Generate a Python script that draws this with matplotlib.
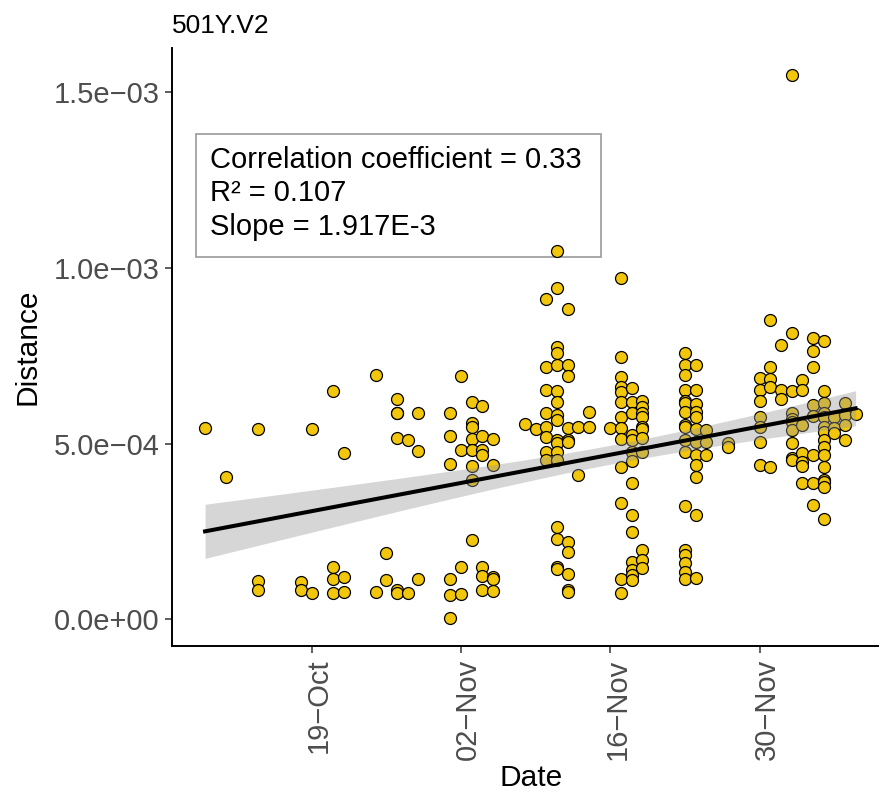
import numpy as np
import pandas as pd
import matplotlib
matplotlib.use("Agg")
import matplotlib.pyplot as plt
import matplotlib.dates as mdates
from matplotlib.patches import Rectangle
from matplotlib.transforms import ScaledTranslation

plt.rcParams["font.family"] = ["Liberation Sans", "DejaVu Sans"]

# === 1. data: sampling dates and distances (units of 1e-4) ===
dates = [
    "2020-10-09", "2020-10-11", "2020-10-14", "2020-10-18", "2020-10-19",
    "2020-10-21", "2020-10-22", "2020-10-25", "2020-10-26", "2020-10-27",
    "2020-10-28", "2020-10-29", "2020-11-01", "2020-11-02", "2020-11-03",
    "2020-11-04", "2020-11-05", "2020-11-08", "2020-11-09", "2020-11-10",
    "2020-11-11", "2020-11-12", "2020-11-13", "2020-11-14", "2020-11-16",
    "2020-11-17", "2020-11-18", "2020-11-19", "2020-11-23", "2020-11-24",
    "2020-11-25", "2020-11-27", "2020-11-30", "2020-12-01", "2020-12-02",
    "2020-12-03", "2020-12-04", "2020-12-05", "2020-12-06", "2020-12-07",
    "2020-12-08", "2020-12-09",
]
distances = [
    [5.45],
    [4.05],
    [5.42, 1.10, 0.84],
    [1.07, 0.84],
    [5.42, 0.75],
    [6.51, 1.49, 1.15, 0.75],
    [4.74, 1.21, 0.78],
    [6.95, 0.78],
    [1.89, 1.12],
    [6.26, 5.88, 5.88, 5.16, 0.84, 0.75],
    [5.11, 0.75],
    [5.88, 4.79, 1.15],
    [5.88, 5.22, 4.42, 1.15, 0.70, 0.04],
    [6.93, 4.82, 1.49, 0.73],
    [6.19, 5.59, 5.48, 5.14, 4.82, 4.37, 3.97, 2.26],
    [6.08, 5.22, 4.82, 4.68, 1.49, 1.24, 0.84],
    [5.14, 4.40, 1.21, 1.15, 0.81],
    [5.56],
    [5.42],
    [9.12, 7.18, 6.54, 5.88, 5.48, 5.19, 4.77, 4.54],
    [10.48, 9.43, 7.75, 7.58, 7.24, 6.49, 6.19, 5.82, 5.68, 5.11, 5.02,
     4.77, 4.54, 2.63, 2.29, 1.49, 1.44],
    [8.83, 7.24, 6.93, 5.45, 5.11, 5.05, 2.20, 1.92, 1.29, 0.84, 0.78],
    [5.48, 4.11],
    [5.90, 5.48],
    [5.45],
    [9.72, 7.47, 6.90, 6.61, 6.46, 6.19, 5.76, 5.45, 5.14, 4.34, 3.31,
     1.15, 0.75],
    [6.59, 6.19, 5.88, 5.25, 5.11, 4.77, 4.51, 3.88, 2.97, 2.49, 1.64,
     1.41, 1.27, 1.12],
    [6.23, 6.05, 5.88, 5.76, 5.48, 5.42, 5.16, 4.77, 1.98, 1.69, 1.47],
    [7.58, 7.24, 6.95, 6.54, 6.23, 6.16, 5.90, 5.53, 5.48, 5.11, 4.77,
     3.23, 1.98, 1.84, 1.61, 1.35, 1.15],
    [7.24, 6.54, 6.13, 5.90, 5.76, 5.42, 5.05, 4.68, 4.40, 4.05, 2.97, 1.18],
    [5.39, 5.05, 4.68],
    [5.02, 4.91],
    [6.87, 6.54, 6.23, 5.76, 5.48, 5.05, 4.40],
    [8.52, 7.18, 6.84, 6.61, 4.34],
    [7.81, 6.54, 6.26],
    [15.50, 8.15, 6.51, 5.88, 5.70, 5.62, 5.39, 5.02, 4.59, 4.54],
    [6.81, 6.54, 5.53, 4.74, 4.48, 4.37, 3.88],
    [8.01, 7.64, 7.18, 6.10, 5.79, 4.68, 3.88, 3.26],
    [7.92, 6.49, 6.16, 5.88, 5.76, 5.48, 5.33, 5.11, 4.91, 4.68, 4.34,
     3.97, 3.91, 3.77, 2.86],
    [5.76, 5.45, 5.31],
    [6.16, 5.82, 5.53, 5.11],
    [5.85],
]
scale = 1e-4

stats_text = ["Correlation coefficient = 0.33", "R\u00b2 = 0.107", "Slope = 1.917E-3"]

# === 2. long table ===
df = pd.DataFrame({"date": dates, "dist": distances}).explode("dist")
df["date"] = pd.to_datetime(df["date"])
df["dist"] = df["dist"].astype(float) * scale
x = mdates.date2num(df["date"])
y = df["dist"].to_numpy()

# === 3. linear fit + 95% CI (like geom_smooth(method="lm")) ===
n = len(x)
b, a = np.polyfit(x, y, 1)
resid = y - (a + b * x)
sigma = np.sqrt(np.sum(resid ** 2) / (n - 2))
sxx = np.sum((x - x.mean()) ** 2)
xs = np.linspace(x.min(), x.max(), 200)
fit = a + b * xs
se = sigma * np.sqrt(1 / n + (xs - x.mean()) ** 2 / sxx)
lo, hi = fit - 1.97 * se, fit + 1.97 * se

# === 4. plot ===
fig = plt.figure(figsize=(8.8, 7.98), dpi=100)
ax = fig.add_axes([172 / 880, 152 / 798, 706 / 880, 598 / 798])

ax.scatter(x, y, s=74, color="#F2C60A", edgecolor="black", linewidth=0.9, zorder=2)
ax.fill_between(xs, lo, hi, color="#999999", alpha=0.4, linewidth=0, zorder=3)
ax.plot(xs, fit, color="black", linewidth=2.9, zorder=4)

# stats box
ax.add_patch(Rectangle((0.034, 0.6505), 0.5736, 0.2055, transform=ax.transAxes,
                       facecolor="none", edgecolor="#9a9a9a", linewidth=1.2, zorder=1))
for ty, txt in zip([0.8127, 0.7575, 0.7007], stats_text):
    ax.text(0.054, ty, txt, transform=ax.transAxes, fontsize=21, va="center", ha="left")

# axes limits
x0 = mdates.date2num(pd.Timestamp("2020-10-19"))
ax.set_xlim(x0 - 13.1, x0 + 53.1)
ax.set_ylim(-0.754e-4, 16.26e-4)

xt = pd.to_datetime(["2020-10-19", "2020-11-02", "2020-11-16", "2020-11-30"])
ax.set_xticks(mdates.date2num(xt))
ax.set_xticklabels([d.strftime("%d-%b").replace("-", "\u2212") for d in xt],
                   rotation=90, ha="center", va="top")
yt = [0, 5e-4, 1e-3, 1.5e-3]
ax.set_yticks(yt)
ax.set_yticklabels([f"{v:.1e}".replace("-", "\u2212") for v in yt])

ax.tick_params(axis="both", labelsize=21, labelcolor="#4D4D4D", color="#333333",
               length=5, width=1.1, pad=4)
for lab in ax.get_xticklabels():
    lab.set_transform(lab.get_transform() + ScaledTranslation(7 / 100, 0, fig.dpi_scale_trans))

for side in ["top", "right"]:
    ax.spines[side].set_visible(False)
for side in ["left", "bottom"]:
    ax.spines[side].set_linewidth(1.4)

ax.set_ylabel("Distance", fontsize=21.5, va="center")
ax.yaxis.set_label_coords(-0.204, 0.5)
ax.set_xlabel("Date", fontsize=21.5, va="center")
ax.xaxis.set_label_coords(0.5085, -0.2207)
ax.set_title("501Y.V2", loc="left", fontsize=19, pad=11)

fig.savefig("out.png", dpi=100, facecolor="white")
